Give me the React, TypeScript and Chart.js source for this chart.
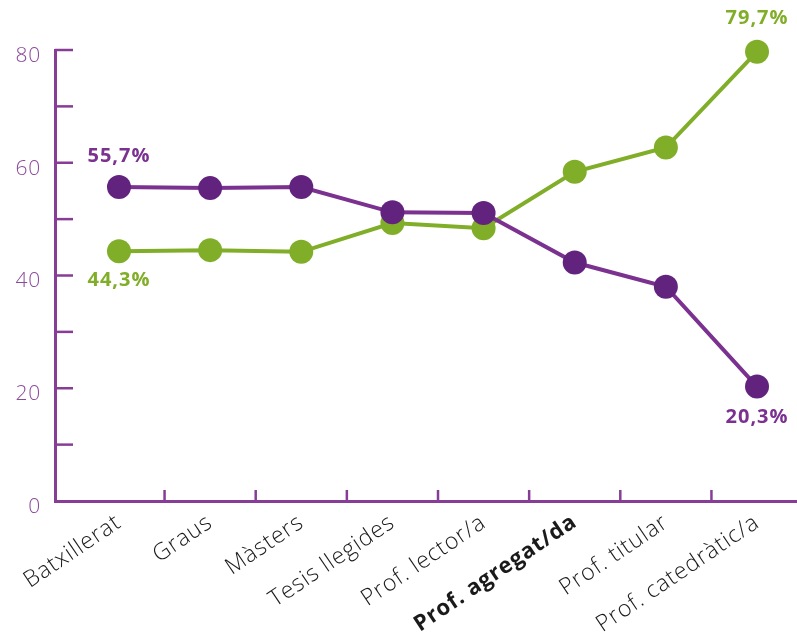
import React, { useEffect, useRef } from "react";
import { Chart, registerables } from "chart.js";
Chart.register(...registerables);

const categories = [
  "Batxillerat",
  "Graus",
  "Màsters",
  "Tesis llegides",
  "Prof. lector/a",
  "Prof. agregat/da",
  "Prof. titular",
  "Prof. catedràtic/a",
];
const purpleValues = [55.7, 55.5, 55.7, 51.2, 51.1, 42.3, 38.0, 20.3];
const greenValues = [44.3, 44.5, 44.2, 49.3, 48.4, 58.4, 62.7, 79.7];
const yTicks = [0, 20, 40, 60, 80];
const boldIndex = 5;

const AXIS = "#873d96";
const PURPLE_LINE = "#7b318f";
const PURPLE_PT = "#62237f";
const GREEN = "#80ae28";
const FONT = "'Open Sans', sans-serif";

const spacing = {
  id: "spacing",
  beforeUpdate(chart: any) {
    chart.ctx.letterSpacing = "0.8px";
  },
};

const tickMarks = {
  id: "tickMarks",
  beforeDatasetsDraw(chart: any) {
    const { ctx, scales, chartArea } = chart;
    ctx.save();
    ctx.strokeStyle = AXIS;
    // extend the x axis line to the right edge of the canvas
    ctx.lineWidth = 3;
    ctx.beginPath();
    ctx.moveTo(chartArea.right - 1, chartArea.bottom + 0.5);
    ctx.lineTo(chart.width, chartArea.bottom + 0.5);
    ctx.stroke();
    ctx.lineWidth = 2.5;
    for (let v = 10; v <= 80; v += 10) {
      const y = scales.y.getPixelForValue(v);
      ctx.beginPath();
      ctx.moveTo(chartArea.left, y);
      ctx.lineTo(chartArea.left + 18, y);
      ctx.stroke();
    }
    for (let i = 0; i < categories.length - 1; i++) {
      const x = scales.x.getPixelForValue(i + 0.5);
      ctx.beginPath();
      ctx.moveTo(x, chartArea.bottom);
      ctx.lineTo(x, chartArea.bottom - 11);
      ctx.stroke();
    }
    ctx.restore();
  },
};

const endLabels = {
  id: "endLabels",
  afterDatasetsDraw(chart: any) {
    const { ctx } = chart;
    const p = chart.getDatasetMeta(0).data;
    const g = chart.getDatasetMeta(1).data;
    const last = categories.length - 1;
    const fmt = (v: number) => v.toFixed(1).replace(".", ",") + "%";
    ctx.save();
    ctx.letterSpacing = "1px";
    ctx.font = `bold 20px ${FONT}`;
    ctx.textAlign = "center";
    ctx.textBaseline = "middle";
    ctx.fillStyle = PURPLE_LINE;
    ctx.fillText(fmt(purpleValues[0]), p[0].x, p[0].y - 31);
    ctx.fillText(fmt(purpleValues[last]), p[last].x, p[last].y + 31);
    ctx.fillStyle = GREEN;
    ctx.fillText(fmt(greenValues[0]), g[0].x, g[0].y + 29);
    ctx.fillText(fmt(greenValues[last]), g[last].x, g[last].y - 33);
    ctx.restore();
  },
};

export default function App() {
  const ref = useRef<HTMLCanvasElement>(null);
  useEffect(() => {
    document.body.style.margin = "0";
    const chart = new Chart(ref.current!, {
      type: "line",
      data: {
        datasets: [
          {
            data: purpleValues.map((y, x) => ({ x, y })),
            borderColor: PURPLE_LINE,
            backgroundColor: PURPLE_PT,
            pointBackgroundColor: PURPLE_PT,
            pointBorderWidth: 0,
            pointRadius: 12,
            pointHoverRadius: 12,
            borderWidth: 4,
            clip: false,
          },
          {
            data: greenValues.map((y, x) => ({ x, y })),
            borderColor: GREEN,
            backgroundColor: GREEN,
            pointBackgroundColor: GREEN,
            pointBorderWidth: 0,
            pointRadius: 12,
            pointHoverRadius: 12,
            borderWidth: 4,
            clip: false,
          },
        ],
      },
      options: {
        responsive: false,
        animation: false,
        layout: { padding: { top: 50, right: 0, left: 0, bottom: 0 } },
        plugins: { legend: { display: false }, tooltip: { enabled: false } },
        events: [],
        scales: {
          x: {
            type: "linear",
            min: -0.702,
            max: 7.307,
            grid: { display: false, drawTicks: false },
            border: { display: true, color: AXIS, width: 3 },
            afterBuildTicks: (axis: any) => {
              axis.ticks = categories.map((_, i) => ({ value: i }));
            },
            afterFit: (axis: any) => {
              axis.height = 133;
            },
            ticks: {
              autoSkip: false,
              minRotation: 34,
              maxRotation: 34,
              padding: 8,
              color: "#1a1a1a",
              font: (ctx: any) => ({
                family: FONT,
                size: ctx.index === boldIndex ? 22 : 23,
                weight: ctx.index === boldIndex ? "bold" : "300",
              }),
              callback: (v: any) => categories[v as number] ?? "",
            },
          },
          y: {
            min: 0,
            max: 80,
            grid: { display: false, drawTicks: false },
            border: { display: true, color: AXIS, width: 3 },
            afterBuildTicks: (axis: any) => {
              axis.ticks = yTicks.map((v) => ({ value: v }));
            },
            afterFit: (axis: any) => {
              axis.width = 55;
            },
            ticks: {
              padding: 14,
              labelOffset: 6,
              color: "#8a4a9a",
              font: { family: FONT, size: 21, weight: "300" },
            },
          },
        },
      },
      plugins: [spacing, tickMarks, endLabels],
    });
    return () => chart.destroy();
  }, []);
  return (
    <div style={{ position: "absolute", left: 0, top: 0, width: 797, height: 634 }}>
      <canvas ref={ref} width={797} height={634} />
    </div>
  );
}
